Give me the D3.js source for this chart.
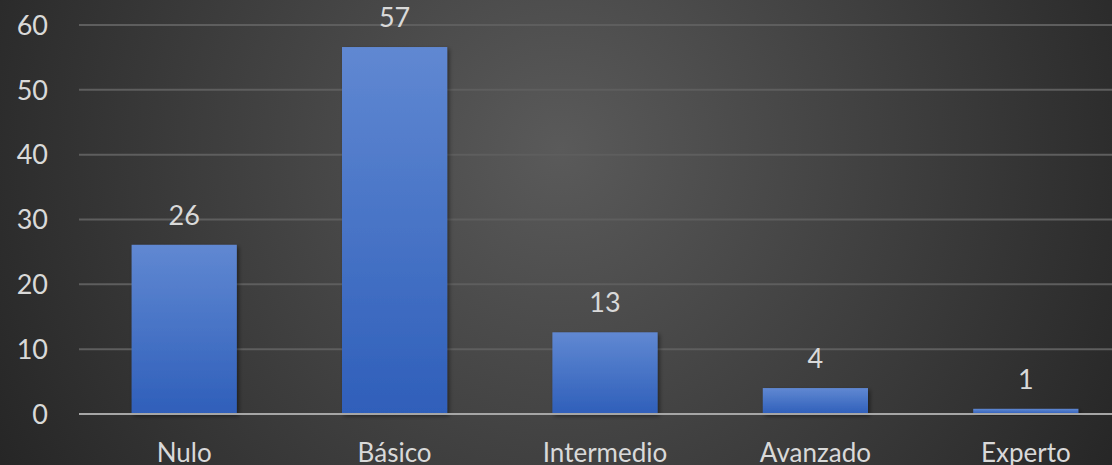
<!DOCTYPE html>
<html>
<head>
<meta charset="utf-8">
<script src="https://cdn.jsdelivr.net/npm/d3@7"></script>
<style>
    html, body { margin:0; padding:0; background:#262626; }
    svg text { font-family: Lato, "Open Sans", sans-serif; fill:#d9d9d9; }
</style>
</head>
<body>
<svg id="chart"></svg>
<script>
(function() {
    'use strict';

    var categories = ['Nulo','Básico','Intermedio','Avanzado','Experto'];
    var values = [26.1, 56.6, 12.6, 4.0, 0.8];
    var yTicks = [0, 10, 20, 30, 40, 50, 60];

    var W = 1112, H = 465;
    var fmt = d3.format('.0f');

    var svg = d3.select('#chart')
        .attr('width', W)
        .attr('height', H);

    var defs = svg.append('defs');

    var bg = defs.append('radialGradient')
        .attr('id','bg')
        .attr('gradientUnits','userSpaceOnUse')
        .attr('cx', 560).attr('cy', 150).attr('r', 640);
    bg.append('stop').attr('offset','0%').attr('stop-color','#5a5a5a');
    bg.append('stop').attr('offset','100%').attr('stop-color','#262626');

    var bar = defs.append('linearGradient')
        .attr('id','bar')
        .attr('x1',0).attr('y1',0).attr('x2',0).attr('y2',1);
    bar.append('stop').attr('offset','0%').attr('stop-color','#6088d2');
    bar.append('stop').attr('offset','100%').attr('stop-color','#2f5fba');

    var shadow = defs.append('filter')
        .attr('id','shadow')
        .attr('x','-20%').attr('y','-20%').attr('width','140%').attr('height','140%');
    shadow.append('feDropShadow')
        .attr('dx', 2).attr('dy', 2).attr('stdDeviation', 2)
        .attr('flood-color','#000').attr('flood-opacity', 0.45);

    svg.append('rect')
        .attr('width', W)
        .attr('height', H)
        .attr('fill','url(#bg)');

    var x = d3.scaleBand()
        .domain(categories)
        .range([79, 1131])
        .paddingInner(0.5)
        .paddingOuter(0.25);

    var y = d3.scaleLinear()
        .domain([0, 60])
        .range([414, 25]);

    /* grid */
    svg.append('g')
        .selectAll('line')
        .data(yTicks.filter(function(d){ return d > 0; })).enter()
            .append('line')
            .attr('x1', 79).attr('x2', W)
            .attr('y1', function(d){ return y(d); })
            .attr('y2', function(d){ return y(d); })
            .attr('stroke','#5e5e5e')
            .attr('stroke-width', 2);

    /* y labels */
    svg.append('g')
        .selectAll('text')
        .data(yTicks).enter()
            .append('text')
            .attr('x', 48)
            .attr('y', function(d){ return y(d); })
            .attr('dy','0.36em')
            .attr('text-anchor','end')
            .style('font-size','27px')
            .text(function(d){ return d; });

    /* bars */
    svg.append('g')
        .selectAll('rect')
        .data(values).enter()
            .append('rect')
            .attr('x', function(d,i){ return x(categories[i]); })
            .attr('y', function(d){ return y(d); })
            .attr('width', x.bandwidth())
            .attr('height', function(d){ return y(0) - y(d); })
            .attr('fill','url(#bar)')
            .attr('filter','url(#shadow)');

    /* baseline */
    svg.append('line')
        .attr('x1', 79).attr('x2', W)
        .attr('y1', y(0)).attr('y2', y(0))
        .attr('stroke','#a6a6a6')
        .attr('stroke-width', 2);

    /* value labels */
    svg.append('g')
        .selectAll('text')
        .data(values).enter()
            .append('text')
            .attr('x', function(d,i){ return x(categories[i]) + x.bandwidth()/2; })
            .attr('y', function(d){ return y(d) - 20; })
            .attr('text-anchor','middle')
            .style('font-size','27px')
            .text(function(d){ return fmt(d); });

    /* category labels */
    svg.append('g')
        .selectAll('text')
        .data(categories).enter()
            .append('text')
            .attr('x', function(d){ return x(d) + x.bandwidth()/2; })
            .attr('y', 462)
            .attr('text-anchor','middle')
            .style('font-size','26px')
            .text(function(d){ return d; });
})();
</script>
</body>
</html>
